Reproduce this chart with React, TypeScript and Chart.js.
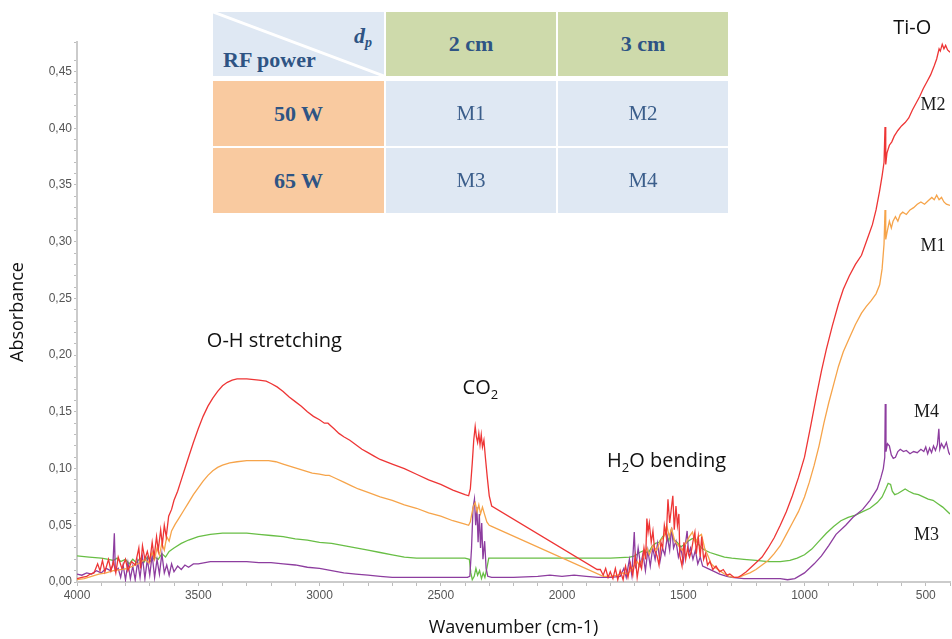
import React, { useEffect, useRef } from 'react';
import { Chart, registerables } from 'chart.js';

Chart.register(...registerables);

// ---------- data (wavenumber cm-1, absorbance) ----------
const M2_POINTS: [number, number][] = [
  [4000, 0.003], [3980, 0.004], [3960, 0.005], [3945, 0.007], [3930, 0.008], [3915, 0.016], [3905, 0.010], [3895, 0.019],
  [3885, 0.009], [3870, 0.020], [3860, 0.010], [3850, 0.018], [3840, 0.008], [3830, 0.022], [3815, 0.012], [3800, 0.020],
  [3790, 0.010], [3775, 0.018], [3760, 0.015], [3745, 0.030], [3738, 0.012], [3730, 0.032], [3720, 0.020], [3710, 0.027],
  [3700, 0.018], [3690, 0.035], [3682, 0.022], [3672, 0.040], [3665, 0.028], [3655, 0.046], [3648, 0.033], [3640, 0.050],
  [3632, 0.040], [3622, 0.058], [3610, 0.064], [3600, 0.072], [3585, 0.080], [3570, 0.090], [3555, 0.100], [3540, 0.110],
  [3520, 0.123], [3500, 0.135], [3480, 0.146], [3460, 0.155], [3440, 0.162], [3420, 0.168], [3400, 0.173], [3380, 0.176],
  [3360, 0.178], [3340, 0.179], [3300, 0.179], [3250, 0.178], [3220, 0.177], [3200, 0.175], [3175, 0.172], [3150, 0.168],
  [3125, 0.163], [3100, 0.159], [3075, 0.155], [3050, 0.150], [3025, 0.146], [3000, 0.143], [2980, 0.140], [2965, 0.140],
  [2955, 0.138], [2940, 0.135], [2920, 0.131], [2900, 0.128], [2875, 0.125], [2850, 0.121], [2825, 0.117], [2800, 0.114],
  [2775, 0.111], [2750, 0.108], [2700, 0.104], [2650, 0.100], [2600, 0.095], [2550, 0.090], [2500, 0.086], [2450, 0.081],
  [2400, 0.077], [2385, 0.076], [2378, 0.082], [2370, 0.105], [2364, 0.125], [2358, 0.137], [2353, 0.128], [2348, 0.123],
  [2343, 0.131], [2338, 0.121], [2333, 0.130], [2328, 0.119], [2322, 0.125], [2316, 0.110], [2308, 0.092], [2300, 0.076],
  [2290, 0.067], [1855, 0.011], [1842, 0.011], [1830, 0.006], [1820, 0.012], [1810, 0.004], [1801, 0.009], [1790, 0.003],
  [1780, 0.012], [1770, 0.002], [1760, 0.010], [1748, 0.002], [1738, 0.014], [1728, 0.004], [1718, 0.016], [1708, 0.006],
  [1698, 0.023], [1690, 0.004], [1680, 0.018], [1672, 0.012], [1662, 0.030], [1655, 0.020], [1650, 0.056], [1645, 0.044],
  [1640, 0.052], [1632, 0.035], [1625, 0.045], [1618, 0.028], [1608, 0.023], [1600, 0.015], [1592, 0.035], [1585, 0.030],
  [1578, 0.050], [1570, 0.040], [1563, 0.073], [1556, 0.052], [1549, 0.065], [1543, 0.076], [1537, 0.046], [1530, 0.067],
  [1524, 0.050], [1518, 0.060], [1514, 0.023], [1505, 0.014], [1497, 0.035], [1490, 0.020], [1482, 0.030], [1474, 0.022],
  [1466, 0.028], [1458, 0.038], [1452, 0.044], [1446, 0.025], [1438, 0.040], [1430, 0.022], [1424, 0.040], [1416, 0.020],
  [1408, 0.025], [1400, 0.015], [1390, 0.018], [1378, 0.011], [1365, 0.014], [1350, 0.009], [1335, 0.011], [1320, 0.006],
  [1308, 0.007], [1290, 0.004], [1275, 0.004], [1260, 0.006], [1240, 0.009], [1220, 0.013], [1200, 0.017], [1175, 0.022],
  [1150, 0.030], [1125, 0.039], [1100, 0.050], [1075, 0.062], [1050, 0.076], [1025, 0.092], [1000, 0.110], [975, 0.137],
  [950, 0.165], [930, 0.186], [910, 0.205], [885, 0.226], [860, 0.245], [840, 0.258], [815, 0.270], [790, 0.280],
  [765, 0.288], [740, 0.303], [720, 0.315], [705, 0.328], [690, 0.345], [680, 0.358], [672, 0.370], [668, 0.401],
  [665, 0.368], [660, 0.378], [650, 0.385], [640, 0.388], [630, 0.393], [615, 0.398], [600, 0.402], [585, 0.405],
  [570, 0.409], [555, 0.416], [540, 0.422], [525, 0.428], [510, 0.435], [495, 0.441], [480, 0.447], [465, 0.455],
  [455, 0.461], [445, 0.470], [440, 0.468], [432, 0.474], [425, 0.470], [418, 0.473], [410, 0.469], [400, 0.467],
];

const M1_POINTS: [number, number][] = [
  [4000, 0.002], [3970, 0.003], [3940, 0.005], [3910, 0.007], [3880, 0.008], [3850, 0.010], [3820, 0.011], [3790, 0.012],
  [3760, 0.015], [3740, 0.017], [3720, 0.020], [3705, 0.017], [3690, 0.026], [3680, 0.020], [3670, 0.030], [3660, 0.024],
  [3650, 0.034], [3640, 0.028], [3630, 0.040], [3620, 0.036], [3610, 0.045], [3595, 0.051], [3580, 0.056], [3560, 0.063],
  [3540, 0.070], [3520, 0.077], [3500, 0.083], [3480, 0.089], [3460, 0.094], [3440, 0.098], [3420, 0.101], [3400, 0.103],
  [3370, 0.105], [3340, 0.106], [3300, 0.107], [3250, 0.107], [3210, 0.107], [3180, 0.106], [3150, 0.104], [3120, 0.102],
  [3090, 0.100], [3060, 0.098], [3030, 0.096], [3000, 0.095], [2975, 0.094], [2960, 0.094], [2950, 0.093], [2930, 0.091],
  [2900, 0.088], [2870, 0.085], [2840, 0.082], [2800, 0.079], [2750, 0.075], [2700, 0.072], [2650, 0.068], [2600, 0.065],
  [2550, 0.061], [2500, 0.058], [2450, 0.054], [2400, 0.051], [2385, 0.050], [2378, 0.053], [2372, 0.060], [2365, 0.067],
  [2358, 0.070], [2350, 0.062], [2343, 0.068], [2336, 0.060], [2328, 0.066], [2320, 0.060], [2310, 0.053], [2300, 0.050],
  [2290, 0.049], [1830, 0.005], [1800, 0.005], [1770, 0.006], [1750, 0.008], [1730, 0.007], [1710, 0.012], [1690, 0.018],
  [1680, 0.014], [1665, 0.022], [1650, 0.030], [1640, 0.024], [1625, 0.032], [1610, 0.028], [1595, 0.036], [1580, 0.040],
  [1568, 0.050], [1558, 0.040], [1548, 0.047], [1535, 0.036], [1520, 0.032], [1505, 0.028], [1490, 0.034], [1475, 0.040],
  [1462, 0.044], [1450, 0.034], [1438, 0.040], [1425, 0.042], [1412, 0.030], [1400, 0.024], [1385, 0.016], [1370, 0.013],
  [1350, 0.010], [1330, 0.007], [1310, 0.005], [1290, 0.004], [1270, 0.004], [1250, 0.006], [1225, 0.008], [1200, 0.011],
  [1175, 0.015], [1150, 0.019], [1125, 0.025], [1100, 0.032], [1075, 0.042], [1050, 0.052], [1025, 0.062], [1000, 0.075],
  [980, 0.088], [960, 0.103], [940, 0.120], [920, 0.140], [900, 0.158], [880, 0.174], [860, 0.190], [840, 0.203],
  [815, 0.215], [790, 0.227], [765, 0.237], [745, 0.243], [725, 0.248], [705, 0.254], [690, 0.262], [680, 0.276],
  [672, 0.298], [668, 0.328], [665, 0.302], [658, 0.310], [650, 0.318], [642, 0.312], [635, 0.318], [625, 0.322],
  [615, 0.318], [605, 0.324], [595, 0.326], [580, 0.324], [565, 0.328], [550, 0.330], [535, 0.333], [520, 0.335],
  [505, 0.333], [490, 0.336], [475, 0.339], [465, 0.337], [455, 0.341], [445, 0.337], [435, 0.339], [425, 0.335],
  [415, 0.333], [400, 0.332],
];

const M3_POINTS: [number, number][] = [
  [4000, 0.023], [3950, 0.022], [3900, 0.021], [3870, 0.020], [3850, 0.019], [3835, 0.021], [3820, 0.018], [3800, 0.020],
  [3785, 0.016], [3770, 0.020], [3755, 0.017], [3740, 0.021], [3725, 0.017], [3710, 0.022], [3695, 0.018], [3680, 0.022],
  [3665, 0.020], [3650, 0.025], [3635, 0.022], [3620, 0.027], [3600, 0.030], [3570, 0.034], [3540, 0.037], [3500, 0.040],
  [3450, 0.042], [3400, 0.043], [3350, 0.043], [3300, 0.043], [3250, 0.042], [3200, 0.041], [3150, 0.040], [3100, 0.038],
  [3050, 0.037], [3000, 0.035], [2950, 0.034], [2900, 0.032], [2850, 0.030], [2800, 0.028], [2750, 0.026], [2700, 0.024],
  [2650, 0.022], [2600, 0.021], [2500, 0.021], [2400, 0.021], [2382, 0.020], [2376, 0.008], [2370, 0.002], [2362, 0.005],
  [2355, 0.012], [2348, 0.006], [2340, 0.010], [2332, 0.003], [2325, 0.008], [2318, 0.004], [2310, 0.012], [2302, 0.021],
  [2200, 0.021], [2000, 0.021], [1800, 0.021], [1720, 0.022], [1700, 0.023], [1680, 0.026], [1660, 0.028], [1645, 0.025],
  [1630, 0.031], [1615, 0.034], [1600, 0.035], [1585, 0.040], [1570, 0.043], [1560, 0.036], [1550, 0.045], [1538, 0.037],
  [1525, 0.035], [1510, 0.031], [1495, 0.033], [1480, 0.036], [1465, 0.038], [1452, 0.039], [1440, 0.034], [1425, 0.030],
  [1410, 0.028], [1390, 0.026], [1360, 0.024], [1330, 0.022], [1300, 0.021], [1250, 0.020], [1200, 0.019], [1150, 0.018],
  [1100, 0.018], [1060, 0.019], [1030, 0.021], [1000, 0.024], [970, 0.029], [940, 0.036], [910, 0.043], [880, 0.049],
  [850, 0.054], [820, 0.057], [790, 0.059], [760, 0.062], [730, 0.065], [700, 0.070], [680, 0.075], [665, 0.082],
  [655, 0.087], [645, 0.086], [638, 0.080], [628, 0.077], [615, 0.078], [600, 0.080], [585, 0.082], [570, 0.080],
  [550, 0.078], [530, 0.077], [510, 0.075], [490, 0.073], [470, 0.072], [450, 0.069], [430, 0.066], [415, 0.063],
  [400, 0.060],
];

const M4_POINTS: [number, number][] = [
  [4000, 0.007], [3980, 0.006], [3960, 0.008], [3940, 0.007], [3920, 0.010], [3900, 0.008], [3880, 0.012], [3862, 0.010],
  [3852, 0.015], [3846, 0.043], [3842, 0.010], [3830, 0.012], [3820, 0.004], [3810, 0.015], [3800, 0.002], [3790, 0.017],
  [3780, 0.003], [3770, 0.014], [3760, 0.002], [3750, 0.018], [3740, 0.004], [3730, 0.022], [3720, 0.003], [3710, 0.020],
  [3700, 0.006], [3690, 0.024], [3680, 0.004], [3670, 0.020], [3660, 0.007], [3650, 0.025], [3640, 0.008], [3630, 0.015],
  [3620, 0.006], [3610, 0.016], [3600, 0.009], [3585, 0.014], [3570, 0.011], [3555, 0.015], [3540, 0.013], [3520, 0.016],
  [3500, 0.016], [3450, 0.018], [3400, 0.018], [3350, 0.018], [3300, 0.018], [3250, 0.017], [3200, 0.017], [3150, 0.016],
  [3100, 0.015], [3050, 0.013], [3000, 0.012], [2950, 0.010], [2900, 0.008], [2850, 0.007], [2800, 0.006], [2750, 0.005],
  [2700, 0.004], [2600, 0.004], [2500, 0.004], [2390, 0.004], [2380, 0.005], [2373, 0.030], [2367, 0.065], [2361, 0.073],
  [2356, 0.050], [2351, 0.066], [2346, 0.035], [2341, 0.060], [2336, 0.030], [2331, 0.052], [2326, 0.020], [2319, 0.036],
  [2313, 0.012], [2306, 0.005], [2290, 0.004], [2200, 0.004], [2100, 0.005], [2050, 0.006], [2000, 0.005], [1950, 0.006],
  [1900, 0.005], [1850, 0.004], [1800, 0.004], [1760, 0.005], [1745, 0.012], [1735, 0.004], [1722, 0.020], [1712, 0.006],
  [1702, 0.044], [1696, 0.012], [1686, 0.030], [1676, 0.015], [1666, 0.025], [1656, 0.010], [1646, 0.028], [1636, 0.014],
  [1626, 0.030], [1616, 0.020], [1606, 0.034], [1596, 0.018], [1586, 0.030], [1576, 0.024], [1566, 0.040], [1556, 0.028],
  [1548, 0.048], [1540, 0.030], [1530, 0.036], [1520, 0.022], [1510, 0.030], [1500, 0.018], [1490, 0.035], [1484, 0.045],
  [1478, 0.025], [1470, 0.030], [1460, 0.020], [1450, 0.028], [1440, 0.016], [1430, 0.022], [1420, 0.014], [1400, 0.012],
  [1380, 0.010], [1350, 0.007], [1320, 0.005], [1300, 0.004], [1250, 0.003], [1200, 0.003], [1150, 0.003], [1100, 0.003],
  [1070, 0.002], [1040, 0.003], [1000, 0.008], [960, 0.016], [930, 0.023], [900, 0.032], [870, 0.042], [830, 0.050],
  [800, 0.057], [760, 0.064], [730, 0.072], [700, 0.082], [685, 0.092], [675, 0.100], [669, 0.110], [667, 0.157],
  [664, 0.115], [658, 0.122], [650, 0.120], [642, 0.112], [634, 0.109], [625, 0.110], [615, 0.115], [605, 0.117],
  [592, 0.115], [580, 0.116], [565, 0.113], [550, 0.115], [535, 0.114], [520, 0.117], [508, 0.115], [500, 0.119],
  [492, 0.113], [484, 0.118], [476, 0.114], [468, 0.120], [460, 0.116], [452, 0.121], [446, 0.135], [442, 0.117],
  [435, 0.122], [425, 0.118], [415, 0.123], [405, 0.114], [400, 0.112],
];

const SERIES_NAMES = ['M2', 'M1', 'M4', 'M3'];
const X_MAJOR_TICKS = [4000, 3500, 3000, 2500, 2000, 1500, 1000, 500];
const Y_MAJOR_TICKS = [0, 0.05, 0.1, 0.15, 0.2, 0.25, 0.3, 0.35, 0.4, 0.45];

const TABLE_CORNER_ROW = 'RF power';
const TABLE_COLUMN_HEADERS = ['2 cm', '3 cm'];
const TABLE_ROW_HEADERS = ['50 W', '65 W'];
const TABLE_SAMPLES = [
  ['M1', 'M2'],
  ['M3', 'M4'],
];

// ---------- styling ----------
const SERIES_COLORS: Record<string, string> = {
  M2: '#ee3535',
  M1: '#f6a44a',
  M4: '#8d3d9f',
  M3: '#68be45',
};
const SANS = '"Open Sans", "DejaVu Sans", sans-serif';
const SERIF = '"Liberation Serif", "Times New Roman", serif';
const TICK_FONT = '"Liberation Sans", Arial, sans-serif';

const labelPlugin = {
  id: 'bandLabels',
  afterDraw(chart: any) {
    const { ctx } = chart;
    const xs = chart.scales.x;
    const ys = chart.scales.y;
    const px = (w: number) => xs.getPixelForValue(w);
    const py = (a: number) => ys.getPixelForValue(a);
    ctx.save();
    ctx.fillStyle = '#111';
    ctx.textBaseline = 'middle';

    const big = `20px ${SANS}`;
    const sub = `13px ${SANS}`;

    ctx.font = big;
    ctx.textAlign = 'center';
    ctx.fillText('O-H stretching', px(3186), py(0.212));
    ctx.fillText('Ti-O', px(556), py(0.488));

    ctx.textAlign = 'left';
    let x0 = px(2410);
    let y0 = py(0.1706);
    ctx.font = big;
    ctx.fillText('CO', x0, y0);
    x0 += ctx.measureText('CO').width;
    ctx.font = sub;
    ctx.fillText('2', x0, y0 + 7);

    x0 = px(1814);
    y0 = py(0.1063);
    ctx.font = big;
    ctx.fillText('H', x0, y0);
    x0 += ctx.measureText('H').width;
    ctx.font = sub;
    ctx.fillText('2', x0, y0 + 7);
    x0 += ctx.measureText('2').width;
    ctx.font = big;
    ctx.fillText('O bending', x0, y0);

    ctx.font = `18px ${SERIF}`;
    ctx.fillStyle = '#1a1a1a';
    ctx.fillText('M2', px(522), py(0.420));
    ctx.fillText('M1', px(522), py(0.296));
    ctx.fillText('M4', px(548), py(0.1495));
    ctx.fillText('M3', px(548), py(0.041));
    ctx.restore();
  },
};

function ChartCanvas() {
  const ref = useRef<HTMLCanvasElement | null>(null);
  useEffect(() => {
    if (!ref.current) return;
    const seriesData: Record<string, [number, number][]> = {
      M2: M2_POINTS,
      M1: M1_POINTS,
      M4: M4_POINTS,
      M3: M3_POINTS,
    };
    const chart = new Chart(ref.current, {
      type: 'line',
      data: {
        datasets: SERIES_NAMES.map((name) => ({
          label: name,
          data: seriesData[name].map(([w, a]) => ({ x: w, y: a })),
          borderColor: SERIES_COLORS[name],
          backgroundColor: SERIES_COLORS[name],
          borderWidth: 1.3,
          pointRadius: 0,
          tension: 0,
          fill: false,
        })),
      },
      options: {
        animation: false,
        responsive: true,
        maintainAspectRatio: false,
        layout: { padding: { top: 42, right: 0, bottom: 0, left: 0 } },
        plugins: {
          legend: { display: false },
          tooltip: { enabled: false },
        },
        scales: {
          x: {
            type: 'linear',
            reverse: true,
            min: 400,
            max: 4000,
            afterFit: (s: any) => {
              s.height = 57;
            },
            border: { display: true, color: '#cbcbcb', width: 2 },
            grid: { drawOnChartArea: false, drawTicks: true, tickLength: 4, color: '#bdbdbd' },
            ticks: {
              stepSize: 100,
              autoSkip: false,
              maxRotation: 0,
              padding: 2,
              color: '#555',
              font: { family: TICK_FONT, size: 12 },
              callback: (v: any) => (X_MAJOR_TICKS.includes(Number(v)) ? String(v) : ''),
            },
            title: {
              display: true,
              text: 'Wavenumber (cm-1)',
              color: '#111',
              font: { family: SANS, size: 18 },
              padding: { top: 0, bottom: 0 },
            },
          },
          y: {
            type: 'linear',
            min: 0,
            max: 0.476,
            afterFit: (s: any) => {
              s.width = 77;
            },
            border: { display: true, color: '#cbcbcb', width: 2 },
            grid: { drawOnChartArea: false, drawTicks: true, tickLength: 3, color: '#bdbdbd' },
            ticks: {
              stepSize: 0.01,
              autoSkip: false,
              padding: 2,
              color: '#555',
              font: { family: TICK_FONT, size: 12 },
              callback: (v: any) => {
                const k = Math.round(Number(v) * 100);
                const hit = Y_MAJOR_TICKS.some((t) => Math.round(t * 100) === k) && Math.abs(Number(v) * 100 - k) < 1e-6;
                return hit ? (k / 100).toFixed(2).replace('.', ',') : '';
              },
            },
            title: {
              display: true,
              text: 'Absorbance',
              color: '#111',
              font: { family: SANS, size: 18 },
              padding: { top: 7, bottom: 0 },
            },
          },
        },
      },
      plugins: [labelPlugin],
    } as any);
    return () => chart.destroy();
  }, []);
  return <canvas ref={ref} />;
}

function Cell(props: {
  left: number;
  top: number;
  width: number;
  height: number;
  bg: string;
  children?: React.ReactNode;
  bold?: boolean;
  size?: number;
  color?: string;
}) {
  const { left, top, width, height, bg, children, bold, size, color } = props;
  return (
    <div
      style={{
        position: 'absolute',
        left,
        top,
        width,
        height,
        background: bg,
        display: 'flex',
        alignItems: 'center',
        justifyContent: 'center',
        fontFamily: SERIF,
        fontWeight: bold ? 700 : 400,
        fontSize: size ?? 22,
        color: color ?? '#2e5484',
      }}
    >
      {children}
    </div>
  );
}

function ParamTable() {
  const colLeft = [213, 386, 558];
  const colWidth = [171, 170, 170];
  const rowTop = [12, 81, 148];
  const rowHeight = [64, 65, 65];
  const blue = '#dfe8f3';
  const green = '#cedaab';
  const orange = '#f9caa0';
  return (
    <>
      <div
        style={{
          position: 'absolute',
          left: colLeft[0],
          top: rowTop[0],
          width: colWidth[0],
          height: rowHeight[0],
          background: blue,
          overflow: 'hidden',
        }}
      >
        <svg width={colWidth[0]} height={rowHeight[0]} style={{ position: 'absolute', left: 0, top: 0 }}>
          <line x1={0} y1={0} x2={colWidth[0]} y2={rowHeight[0]} stroke="#ffffff" strokeWidth={3} />
        </svg>
        <div
          style={{
            position: 'absolute',
            right: 12,
            top: 13,
            fontFamily: SERIF,
            fontWeight: 700,
            fontStyle: 'italic',
            fontSize: 22,
            color: '#2e5484',
            lineHeight: '22px',
          }}
        >
          d<sub style={{ fontSize: 14, verticalAlign: -4 }}>p</sub>
        </div>
        <div
          style={{
            position: 'absolute',
            left: 10,
            top: 35,
            fontFamily: SERIF,
            fontWeight: 700,
            fontSize: 22,
            color: '#2e5484',
            lineHeight: '26px',
          }}
        >
          {TABLE_CORNER_ROW}
        </div>
      </div>
      {TABLE_COLUMN_HEADERS.map((h, i) => (
        <Cell key={h} left={colLeft[i + 1]} top={rowTop[0]} width={colWidth[i + 1]} height={rowHeight[0]} bg={green} bold>
          {h}
        </Cell>
      ))}
      {TABLE_ROW_HEADERS.map((h, r) => (
        <React.Fragment key={h}>
          <Cell left={colLeft[0]} top={rowTop[r + 1]} width={colWidth[0]} height={rowHeight[r + 1]} bg={orange} bold>
            {h}
          </Cell>
          {TABLE_SAMPLES[r].map((s, c) => (
            <Cell
              key={s}
              left={colLeft[c + 1]}
              top={rowTop[r + 1]}
              width={colWidth[c + 1]}
              height={rowHeight[r + 1]}
              bg={blue}
              size={21}
              color="#3b5e8b"
            >
              {s}
            </Cell>
          ))}
        </React.Fragment>
      ))}
    </>
  );
}

export default function App() {
  return (
    <div
      style={{
        position: 'fixed',
        left: 0,
        top: 0,
        width: 952,
        height: 639,
        background: '#ffffff',
        overflow: 'hidden',
      }}
    >
      <div style={{ position: 'absolute', left: 0, top: 0, width: 952, height: 639 }}>
        <ChartCanvas />
      </div>
      <ParamTable />
    </div>
  );
}
